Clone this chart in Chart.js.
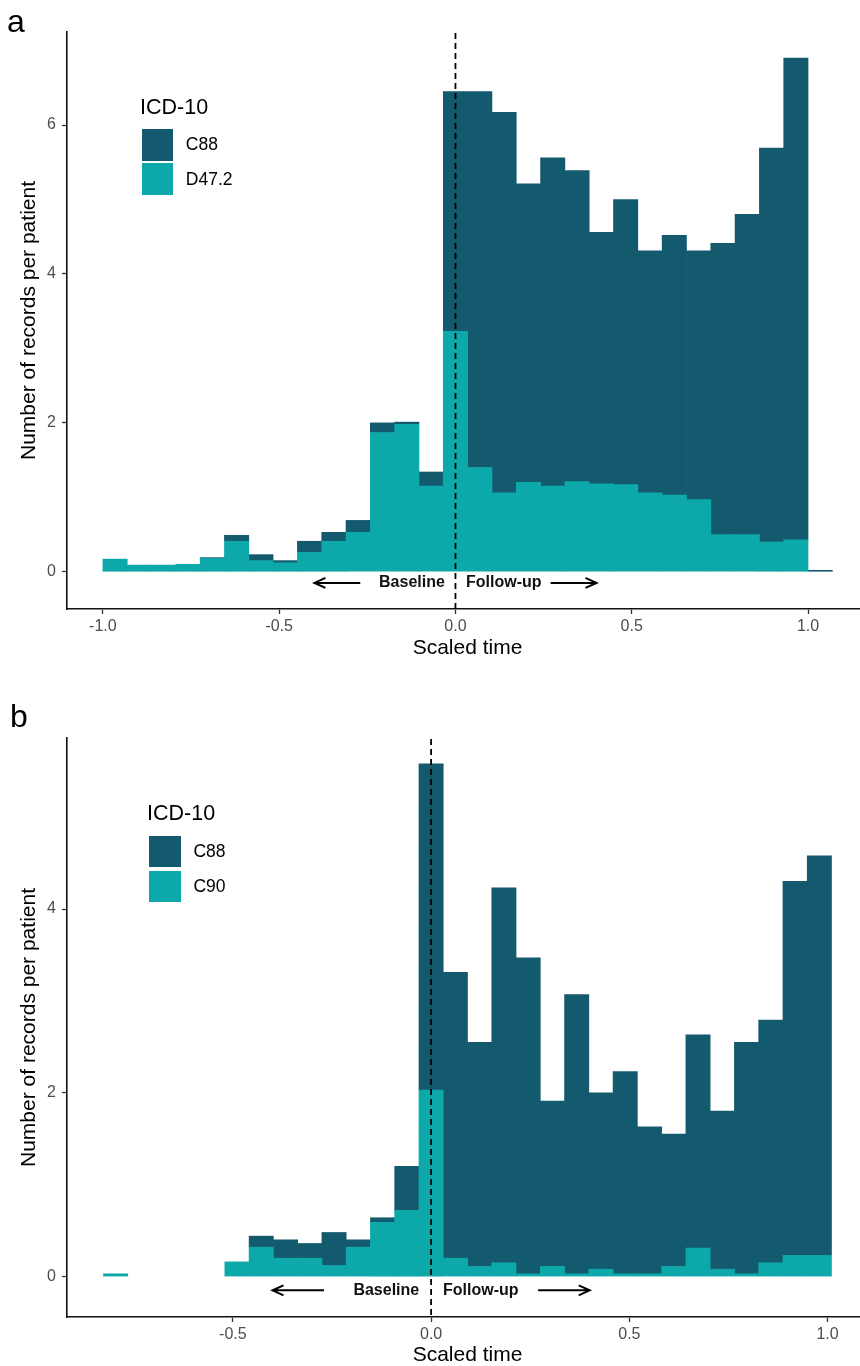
<!DOCTYPE html>
<html>
<head>
<meta charset="utf-8">
<script src="https://cdn.jsdelivr.net/npm/chart.js@4.4.1/dist/chart.umd.min.js"></script>
<style>
  html, body { margin: 0; padding: 0; background: #fff; }
  body { width: 860px; height: 1366px; position: relative; overflow: hidden;
         font-family: "Liberation Sans", Arial, Helvetica, sans-serif; }
  canvas { position: absolute; left: 0; }
  .txt { position: absolute; line-height: 1; white-space: nowrap; color: #000; }
  .key { position: absolute; }
</style>
</head>
<body>
<canvas id="chartA" width="868" height="683" style="top:0px"></canvas>
<canvas id="chartB" width="868" height="683" style="top:683px"></canvas>
<div id="overlay"></div>
<script>
// ---------------- data ----------------
const panelLabels = ['a', 'b'];
const seriesNamesA = ['C88', 'D47.2'];
const seriesNamesB = ['C88', 'C90'];

// panel a: 30 histogram bins starting at -1.0, width 2/29
const binStartA = -1.0;
const binWidthA = 2 / 29;
const c88A  = [0, 0, 0, 0, 0.01, 0.08, 0.08, 0.03, 0.15, 0.12, 0.16, 0.13, 0.03, 0.19,
               3.22, 5.05, 5.11, 4.01, 4.41, 4.18, 3.38, 3.83, 3.25, 3.49, 3.34, 3.91, 4.30, 5.29, 6.47, 0.02];
const d472A = [0.17, 0.09, 0.09, 0.10, 0.18, 0.41, 0.15, 0.12, 0.26, 0.41, 0.53, 1.87, 1.98, 1.15,
               3.23, 1.40, 1.06, 1.20, 1.15, 1.21, 1.18, 1.17, 1.06, 1.03, 0.97, 0.50, 0.50, 0.40, 0.43, 0];

// panel b: 30 histogram bins starting at -0.826, width 0.0612
const binStartB = -0.8262;
const binWidthB = 0.0612;
const c88B = [0, 0, 0, 0, 0, 0, 0.12, 0.20, 0.16, 0.36, 0.08, 0.05, 0.48,
              3.55, 3.11, 2.44, 4.08, 3.44, 1.80, 3.04, 1.92, 2.20, 1.60, 1.44, 2.32, 1.72, 2.52, 2.64, 4.07, 4.35];
const c90B = [0.03, 0, 0, 0, 0, 0.16, 0.32, 0.20, 0.20, 0.12, 0.32, 0.59, 0.72,
              2.03, 0.20, 0.11, 0.15, 0.03, 0.11, 0.03, 0.08, 0.03, 0.03, 0.11, 0.31, 0.08, 0.03, 0.15, 0.23, 0.23];

const xTicksA = [-1.0, -0.5, 0.0, 0.5, 1.0];
const yTicksA = [0, 2, 4, 6];
const xTicksB = [-0.5, 0.0, 0.5, 1.0];
const yTicksB = [0, 2, 4];

const xTitle = 'Scaled time';
const yTitle = 'Number of records per patient';
const legendTitle = 'ICD-10';
const noteLeft = 'Baseline';
const noteRight = 'Follow-up';
const noteY = -0.15;      // data y of the baseline/follow-up note
const noteGap = 0.03;     // text offset from x = 0
const arrowFrom = 0.27, arrowTo = 0.40;

// ---------------- style ----------------
const FONT = '"Liberation Sans", Arial, Helvetica, sans-serif';
const colDark = '#145a6e';
const colTeal = '#0da8a9';

function drawArrow(ctx, x1, x2, y) {
  const dir = x2 > x1 ? 1 : -1;
  ctx.beginPath();
  ctx.moveTo(x1, y); ctx.lineTo(x2, y);
  ctx.moveTo(x2 - dir * 11, y - 5); ctx.lineTo(x2, y); ctx.lineTo(x2 - dir * 11, y + 5);
  ctx.stroke();
}

const annotPlugin = {
  id: 'annot',
  afterDatasetsDraw(chart) {
    const { ctx, chartArea: ca, scales: { x, y } } = chart;
    ctx.save();
    const x0 = x.getPixelForValue(0);
    ctx.strokeStyle = '#000';
    ctx.lineWidth = 1.8;
    ctx.setLineDash([6, 4]);
    ctx.beginPath(); ctx.moveTo(x0, ca.top + 1); ctx.lineTo(x0, ca.bottom); ctx.stroke();
    ctx.setLineDash([]);
    const yy = y.getPixelForValue(noteY);
    ctx.font = 'bold 16px ' + FONT;
    ctx.fillStyle = '#111';
    ctx.textBaseline = 'middle';
    ctx.textAlign = 'right';
    ctx.fillText(noteLeft, x.getPixelForValue(-noteGap), yy);
    ctx.textAlign = 'left';
    ctx.fillText(noteRight, x.getPixelForValue(noteGap), yy);
    ctx.lineWidth = 2;
    drawArrow(ctx, x.getPixelForValue(-arrowFrom), x.getPixelForValue(-arrowTo), yy);
    drawArrow(ctx, x.getPixelForValue(arrowFrom), x.getPixelForValue(arrowTo), yy);
    ctx.restore();
  }
};

function buildChart(cfg) {
  const centers = cfg.dark.map((_, i) => cfg.binStart + (i + 0.5) * cfg.binWidth);
  const pts = arr => arr.map((v, i) => ({ x: centers[i], y: v === 0 ? null : v }));
  return new Chart(document.getElementById(cfg.id), {
    type: 'bar',
    data: {
      datasets: [
        { label: cfg.names[1], data: pts(cfg.light), backgroundColor: colTeal },
        { label: cfg.names[0], data: pts(cfg.dark),  backgroundColor: colDark }
      ]
    },
    options: {
      responsive: false,
      animation: false,
      devicePixelRatio: 1,
      layout: { padding: { top: cfg.top, left: 0, right: 0, bottom: 0 } },
      plugins: { legend: { display: false }, tooltip: { enabled: false } },
      datasets: { bar: { categoryPercentage: 1, barPercentage: 1, borderWidth: 0 } },
      scales: {
        x: {
          type: 'linear', stacked: true, min: cfg.xMin, max: cfg.xMax, offset: false,
          grid: { display: true, drawOnChartArea: false, drawTicks: true, tickLength: 5,
                  tickWidth: 1.3, tickColor: '#333', offset: false },
          border: { display: true, color: '#111', width: 1.6 },
          ticks: { color: '#4d4d4d', font: { family: FONT, size: 16 }, padding: 2.5,
                   maxRotation: 0, autoSkip: false, callback: v => Number(v).toFixed(1) },
          title: { display: true, text: xTitle, color: '#000',
                   font: { family: FONT, size: 21, lineHeight: 1 },
                   padding: { top: 0, bottom: cfg.xTitlePad } },
          afterBuildTicks: s => { s.ticks = cfg.xTicks.map(v => ({ value: v })); },
          afterFit: s => { s.height = cfg.H - cfg.bottom; s.paddingLeft = 0; s.paddingRight = 0; }
        },
        y: {
          type: 'linear', stacked: true, min: cfg.yMin, max: cfg.yMax,
          grid: { display: true, drawOnChartArea: false, drawTicks: true, tickLength: 5,
                  tickWidth: 1.3, tickColor: '#333' },
          border: { display: true, color: '#111', width: 1.6 },
          ticks: { color: '#4d4d4d', font: { family: FONT, size: 16 }, padding: 6,
                   autoSkip: false, callback: v => String(v) },
          title: { display: true, text: yTitle, color: '#000',
                   font: { family: FONT, size: 21, lineHeight: 1 },
                   padding: { top: 18.5, bottom: 0 } },
          afterBuildTicks: s => { s.ticks = cfg.yTicks.map(v => ({ value: v })); },
          afterFit: s => { s.width = 67; s.paddingTop = 0; s.paddingBottom = 0; }
        }
      }
    },
    plugins: [annotPlugin]
  });
}

buildChart({ id: 'chartA', H: 683, top: 32, bottom: 609,
  dark: c88A, light: d472A, names: seriesNamesA, binStart: binStartA, binWidth: binWidthA,
  xMin: -1.1018, xMax: 1.1701, yMin: -0.50, yMax: 7.25,
  xTicks: xTicksA, yTicks: yTicksA, xTitlePad: 24.2 });

buildChart({ id: 'chartB', H: 683, top: 55, bottom: 634,
  dark: c88B, light: c90B, names: seriesNamesB, binStart: binStartB, binWidth: binWidthB,
  xMin: -0.9183, xMax: 1.1019, yMin: -0.44, yMax: 5.861,
  xTicks: xTicksB, yTicks: yTicksB, xTitlePad: 0 });

// ---------------- HTML legend & panel letters ----------------
const overlay = document.getElementById('overlay');
function addText(text, left, top, size) {
  const d = document.createElement('div');
  d.className = 'txt';
  d.style.left = left + 'px'; d.style.top = top + 'px'; d.style.fontSize = size + 'px';
  d.textContent = text;
  overlay.appendChild(d);
}
function addKey(color, left, top, w, h) {
  const d = document.createElement('div');
  d.className = 'key';
  Object.assign(d.style, { left: left + 'px', top: top + 'px', width: w + 'px', height: h + 'px', background: color });
  overlay.appendChild(d);
}
function addLegend(names, o) {
  addText(legendTitle, o.titleLeft, o.titleTop, 21.5);
  addKey(colDark, o.keyLeft, o.keyTops[0], o.keyW, o.keyH);
  addKey(colTeal, o.keyLeft, o.keyTops[1], o.keyW, o.keyH);
  addText(names[0], o.labLeft, o.labTops[0], 17.5);
  addText(names[1], o.labLeft, o.labTops[1], 17.5);
}
addLegend(seriesNamesA, { titleLeft: 140, titleTop: 97, keyLeft: 142.3, keyTops: [129, 163.3], keyW: 31, keyH: 31.7,
                          labLeft: 185.8, labTops: [136.4, 171.4] });
addLegend(seriesNamesB, { titleLeft: 147.1, titleTop: 803.2, keyLeft: 149, keyTops: [835.7, 870.7], keyW: 32, keyH: 31,
                          labLeft: 193.4, labTops: [843.1, 878.1] });
addText(panelLabels[0], 7, 4.6, 32);
addText(panelLabels[1], 10, 699.6, 32);
</script>
</body>
</html>
